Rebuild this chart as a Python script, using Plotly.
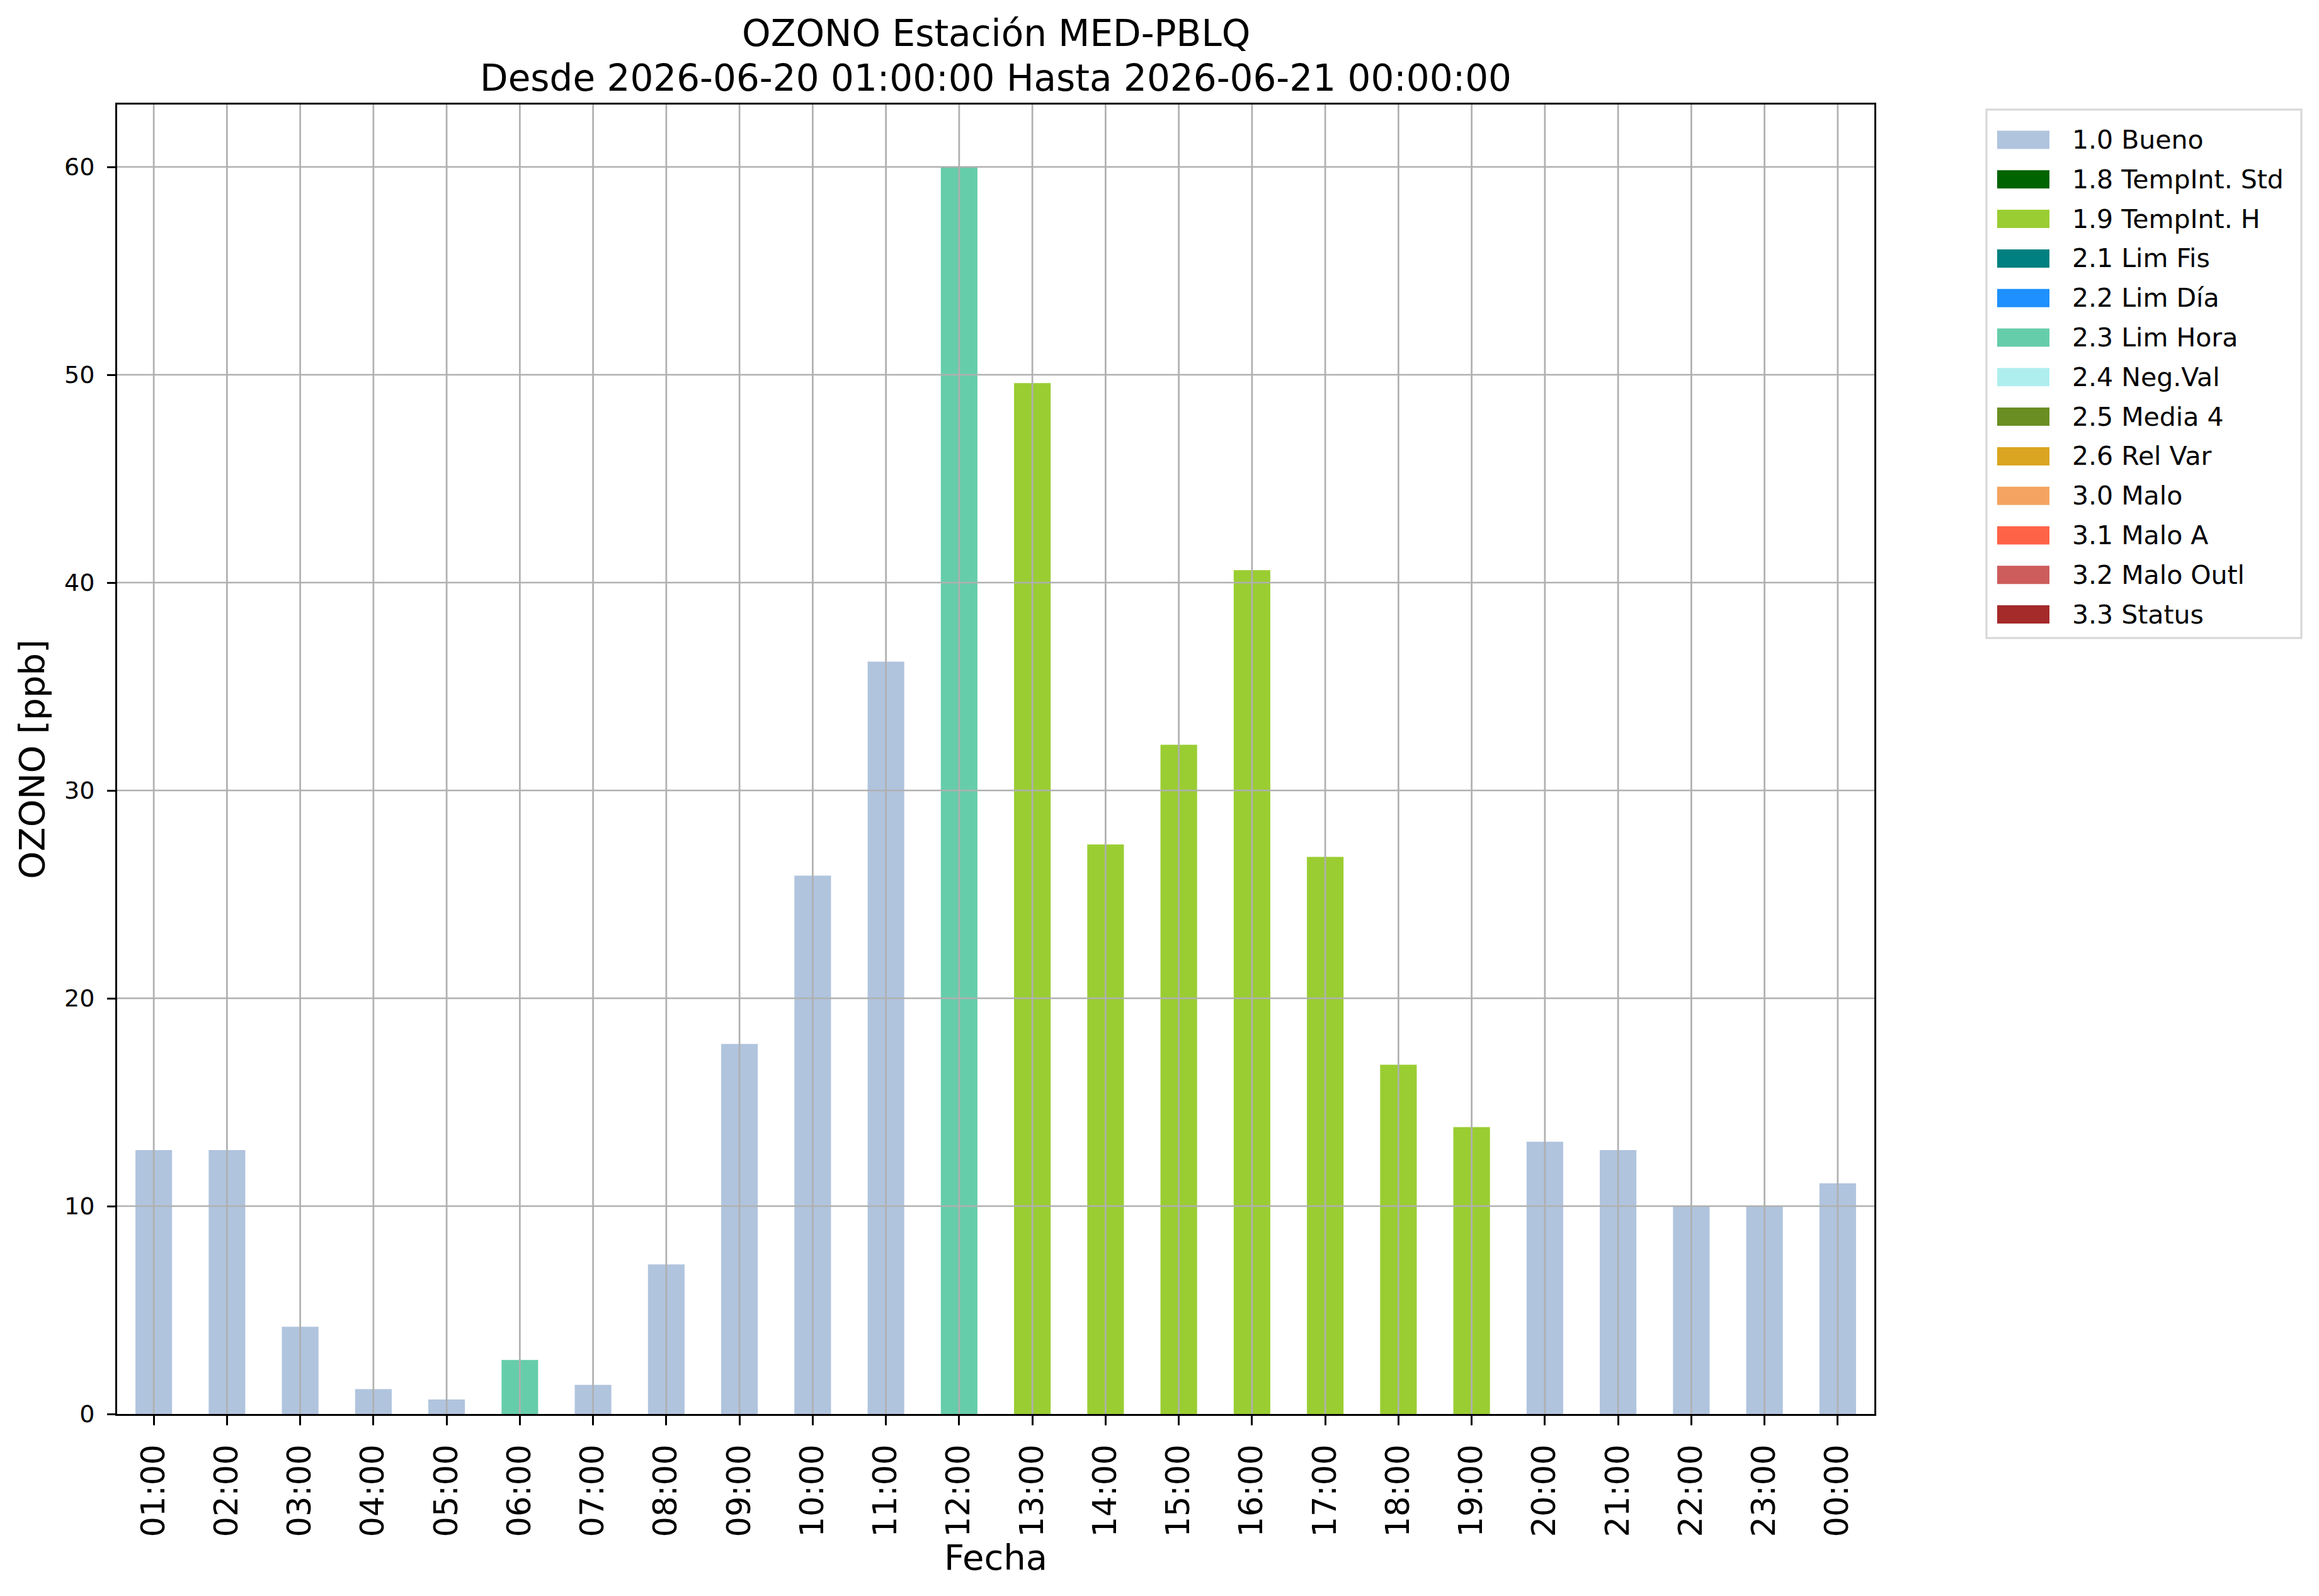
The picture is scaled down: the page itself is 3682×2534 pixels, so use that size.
import plotly.graph_objects as go

# ---------------- data ----------------
hours = ["01:00", "02:00", "03:00", "04:00", "05:00", "06:00", "07:00", "08:00",
         "09:00", "10:00", "11:00", "12:00", "13:00", "14:00", "15:00", "16:00",
         "17:00", "18:00", "19:00", "20:00", "21:00", "22:00", "23:00", "00:00"]
ozone = [12.7, 12.7, 4.2, 1.2, 0.7, 2.6, 1.4, 7.2,
         17.8, 25.9, 36.2, 60.0, 49.6, 27.4, 32.2, 40.6,
         26.8, 16.8, 13.8, 13.1, 12.7, 10.0, 10.0, 11.1]
flags = (["1.0 Bueno"] * 5 + ["2.3 Lim Hora"] + ["1.0 Bueno"] * 5 + ["2.3 Lim Hora"]
         + ["1.9 TempInt. H"] * 7 + ["1.0 Bueno"] * 5)
categories = ["1.0 Bueno", "1.8 TempInt. Std", "1.9 TempInt. H", "2.1 Lim Fis",
              "2.2 Lim Día", "2.3 Lim Hora", "2.4 Neg.Val", "2.5 Media 4",
              "2.6 Rel Var", "3.0 Malo", "3.1 Malo A", "3.2 Malo Outl", "3.3 Status"]
colors = ["#B0C4DE", "#006400", "#9ACD32", "#008080", "#1E90FF", "#66CDAA",
          "#AFEEEE", "#6B8E23", "#DAA520", "#F4A460", "#FF6347", "#CD5C5C", "#A52A2A"]
y_ticks = [0, 10, 20, 30, 40, 50, 60]
title1 = "OZONO Estación MED-PBLQ"
title2 = "Desde 2026-06-20 01:00:00 Hasta 2026-06-21 00:00:00"

# ---------------- layout geometry (pixels) ----------------
W, H = 3682, 2534
L, R, T, B = 186, 2976, 166, 2245
pw, ph = R - L, B - T
FONT = "DejaVu Sans"


def px_x(p):
    return (p - L) / pw


def px_y(p):
    return (B - p) / ph


fig = go.Figure()
for cat, col in zip(categories, colors):
    fig.add_trace(go.Bar(
        x=hours,
        y=[v if f == cat else None for v, f in zip(ozone, flags)],
        name=cat,
        marker=dict(color=col, line=dict(width=0)),
        width=0.5,
        showlegend=False,
    ))

shapes = []
# grid lines drawn above the bars (as in matplotlib)
for h in hours:
    shapes.append(dict(type="line", xref="x", yref="paper", x0=h, x1=h, y0=0, y1=1,
                       line=dict(color="#b0b0b0", width=2.7), layer="above"))
for t in y_ticks[1:]:
    shapes.append(dict(type="line", xref="paper", yref="y", x0=0, x1=1, y0=t, y1=t,
                       line=dict(color="#b0b0b0", width=2.7), layer="above"))

annotations = [
    dict(text=title1, xref="paper", yref="paper", x=0.5, y=px_y(53), xanchor="center",
         yanchor="middle", showarrow=False, font=dict(family=FONT, size=58, color="black")),
    dict(text=title2, xref="paper", yref="paper", x=0.5, y=px_y(124), xanchor="center",
         yanchor="middle", showarrow=False, font=dict(family=FONT, size=58, color="black")),
]

# legend (matplotlib style, patches + labels)
lx0, lx1, ly0, ly1 = 3154, 3654, 174, 1013
shapes.append(dict(type="rect", xref="paper", yref="paper",
                   x0=px_x(lx0), x1=px_x(lx1), y0=px_y(ly0), y1=px_y(ly1),
                   line=dict(color="#d6d6d6", width=3), fillcolor="white", layer="above"))
step = 62.8
for i, (cat, col) in enumerate(zip(categories, colors)):
    cy = 222 + i * step
    shapes.append(dict(type="rect", xref="paper", yref="paper",
                       x0=px_x(3171), x1=px_x(3254), y0=px_y(cy - 14.5), y1=px_y(cy + 14.5),
                       line=dict(width=0), fillcolor=col, layer="above"))
    annotations.append(dict(text=cat, xref="paper", yref="paper", x=px_x(3288), y=px_y(cy),
                            xanchor="left", yanchor="middle", showarrow=False,
                            font=dict(family=FONT, size=41, color="black")))

fig.update_layout(
    width=W, height=H,
    margin=dict(l=L, r=W - R, t=T, b=H - B, pad=0),
    paper_bgcolor="white", plot_bgcolor="white",
    barmode="overlay",
    font=dict(family=FONT, color="black"),
    shapes=shapes,
    annotations=annotations,
    xaxis=dict(
        type="category", range=[-0.5, len(hours) - 0.5],
        tickangle=-90, tickfont=dict(size=51, family=FONT),
        ticks="outside", ticklen=15, tickwidth=3, tickcolor="black",
        ticklabelstandoff=10,
        showgrid=False, showline=True, linecolor="black", linewidth=3, mirror=True,
        title=dict(text="Fecha", font=dict(size=56, family=FONT), standoff=8),
    ),
    yaxis=dict(
        range=[0, 63], tickvals=y_ticks, ticktext=[str(t) for t in y_ticks],
        tickfont=dict(size=38, family=FONT),
        ticks="outside", ticklen=13, tickwidth=3, tickcolor="black",
        ticklabelstandoff=12,
        showgrid=False, zeroline=False, showline=True, linecolor="black", linewidth=3,
        mirror=True,
        title=dict(text="OZONO [ppb]", font=dict(size=56, family=FONT), standoff=14),
    ),
)

fig.write_html("out.html",
               config={"displayModeBar": False},
               post_script="document.body.style.margin='0';document.body.style.padding='0';")
